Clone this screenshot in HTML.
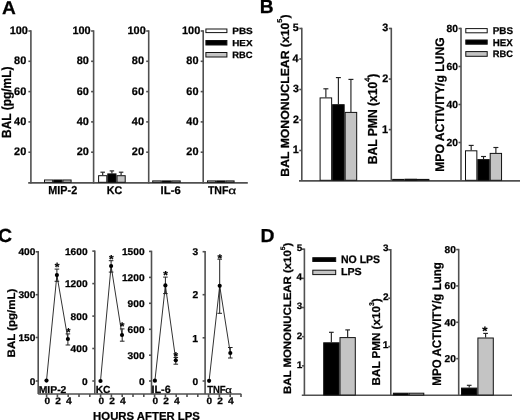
<!DOCTYPE html>
<html><head><meta charset="utf-8"><style>
html,body{margin:0;padding:0;background:#fff;}
body{width:520px;height:420px;overflow:hidden;}
svg{display:block;filter:grayscale(1) blur(0.4px);}
text{font-family:"Liberation Sans",sans-serif;fill:#000;text-rendering:geometricPrecision;stroke:#000;stroke-width:0.25px;}
</style></head><body>
<svg width="520" height="420" viewBox="0 0 520 420">

<text transform="translate(1.97,14.25) scale(1.038,1)" font-size="18.41" font-weight="bold">A</text>
<line x1="30.9" y1="30.3" x2="30.9" y2="183.5" stroke="#505050" stroke-width="1.6"/>
<line x1="28.4" y1="31" x2="30.9" y2="31" stroke="#505050" stroke-width="1.6"/>
<line x1="28.4" y1="61.3" x2="30.9" y2="61.3" stroke="#505050" stroke-width="1.6"/>
<line x1="28.4" y1="91.6" x2="30.9" y2="91.6" stroke="#505050" stroke-width="1.6"/>
<line x1="28.4" y1="121.9" x2="30.9" y2="121.9" stroke="#505050" stroke-width="1.6"/>
<line x1="28.4" y1="152.2" x2="30.9" y2="152.2" stroke="#505050" stroke-width="1.6"/>
<text transform="translate(9.71,34.07) scale(1.000,1)" font-size="10.92" font-weight="bold">100</text>
<text transform="translate(14.07,64.37) scale(1.000,1)" font-size="10.92" font-weight="bold">80</text>
<text transform="translate(14.07,94.67) scale(1.000,1)" font-size="10.92" font-weight="bold">60</text>
<text transform="translate(14.07,124.97) scale(1.000,1)" font-size="10.92" font-weight="bold">40</text>
<text transform="translate(14.07,155.27) scale(1.000,1)" font-size="10.92" font-weight="bold">20</text>
<line x1="93.6" y1="30.3" x2="93.6" y2="183.5" stroke="#505050" stroke-width="1.6"/>
<line x1="91.1" y1="31" x2="93.6" y2="31" stroke="#505050" stroke-width="1.6"/>
<line x1="91.1" y1="61.3" x2="93.6" y2="61.3" stroke="#505050" stroke-width="1.6"/>
<line x1="91.1" y1="91.6" x2="93.6" y2="91.6" stroke="#505050" stroke-width="1.6"/>
<line x1="91.1" y1="121.9" x2="93.6" y2="121.9" stroke="#505050" stroke-width="1.6"/>
<line x1="91.1" y1="152.2" x2="93.6" y2="152.2" stroke="#505050" stroke-width="1.6"/>
<text transform="translate(72.41,34.07) scale(1.000,1)" font-size="10.92" font-weight="bold">100</text>
<text transform="translate(76.77,64.37) scale(1.000,1)" font-size="10.92" font-weight="bold">80</text>
<text transform="translate(76.77,94.67) scale(1.000,1)" font-size="10.92" font-weight="bold">60</text>
<text transform="translate(76.77,124.97) scale(1.000,1)" font-size="10.92" font-weight="bold">40</text>
<text transform="translate(76.77,155.27) scale(1.000,1)" font-size="10.92" font-weight="bold">20</text>
<line x1="148.7" y1="30.3" x2="148.7" y2="183.5" stroke="#505050" stroke-width="1.6"/>
<line x1="146.2" y1="31" x2="148.7" y2="31" stroke="#505050" stroke-width="1.6"/>
<line x1="146.2" y1="61.3" x2="148.7" y2="61.3" stroke="#505050" stroke-width="1.6"/>
<line x1="146.2" y1="91.6" x2="148.7" y2="91.6" stroke="#505050" stroke-width="1.6"/>
<line x1="146.2" y1="121.9" x2="148.7" y2="121.9" stroke="#505050" stroke-width="1.6"/>
<line x1="146.2" y1="152.2" x2="148.7" y2="152.2" stroke="#505050" stroke-width="1.6"/>
<text transform="translate(127.51,34.07) scale(1.000,1)" font-size="10.92" font-weight="bold">100</text>
<text transform="translate(131.87,64.37) scale(1.000,1)" font-size="10.92" font-weight="bold">80</text>
<text transform="translate(131.87,94.67) scale(1.000,1)" font-size="10.92" font-weight="bold">60</text>
<text transform="translate(131.87,124.97) scale(1.000,1)" font-size="10.92" font-weight="bold">40</text>
<text transform="translate(131.87,155.27) scale(1.000,1)" font-size="10.92" font-weight="bold">20</text>
<line x1="203.2" y1="30.3" x2="203.2" y2="183.5" stroke="#505050" stroke-width="1.6"/>
<line x1="200.7" y1="31" x2="203.2" y2="31" stroke="#505050" stroke-width="1.6"/>
<line x1="200.7" y1="61.3" x2="203.2" y2="61.3" stroke="#505050" stroke-width="1.6"/>
<line x1="200.7" y1="91.6" x2="203.2" y2="91.6" stroke="#505050" stroke-width="1.6"/>
<line x1="200.7" y1="121.9" x2="203.2" y2="121.9" stroke="#505050" stroke-width="1.6"/>
<line x1="200.7" y1="152.2" x2="203.2" y2="152.2" stroke="#505050" stroke-width="1.6"/>
<text transform="translate(182.01,34.07) scale(1.000,1)" font-size="10.92" font-weight="bold">100</text>
<text transform="translate(186.37,64.37) scale(1.000,1)" font-size="10.92" font-weight="bold">80</text>
<text transform="translate(186.37,94.67) scale(1.000,1)" font-size="10.92" font-weight="bold">60</text>
<text transform="translate(186.37,124.97) scale(1.000,1)" font-size="10.92" font-weight="bold">40</text>
<text transform="translate(186.37,155.27) scale(1.000,1)" font-size="10.92" font-weight="bold">20</text>
<line x1="28.2" y1="182.9" x2="247.8" y2="182.9" stroke="#505050" stroke-width="1.6"/>
<rect x="44.5" y="180" width="8.2" height="2.3" fill="#fff" stroke="#111" stroke-width="1.0"/>
<rect x="53.7" y="180" width="8.2" height="2.3" fill="#000" stroke="#111" stroke-width="1.0"/>
<rect x="62.9" y="180" width="8.2" height="2.3" fill="#c4c4c4" stroke="#111" stroke-width="1.0"/>
<line x1="102.7" y1="172.2" x2="102.7" y2="175.2" stroke="#222" stroke-width="1.15"/>
<line x1="100.45" y1="172.2" x2="104.95" y2="172.2" stroke="#222" stroke-width="1.15"/>
<rect x="98.6" y="175.7" width="8.2" height="6.6" fill="#fff" stroke="#111" stroke-width="1.0"/>
<line x1="111.9" y1="170.9" x2="111.9" y2="173.4" stroke="#222" stroke-width="1.15"/>
<line x1="109.65" y1="170.9" x2="114.15" y2="170.9" stroke="#222" stroke-width="1.15"/>
<rect x="107.8" y="173.9" width="8.2" height="8.4" fill="#000" stroke="#111" stroke-width="1.0"/>
<line x1="121.1" y1="172.2" x2="121.1" y2="175.2" stroke="#222" stroke-width="1.15"/>
<line x1="118.85" y1="172.2" x2="123.35" y2="172.2" stroke="#222" stroke-width="1.15"/>
<rect x="117" y="175.7" width="8.2" height="6.6" fill="#c4c4c4" stroke="#111" stroke-width="1.0"/>
<rect x="152.7" y="180.9" width="8.5" height="1.4" fill="#fff" stroke="#111" stroke-width="1.0"/>
<rect x="162.2" y="180.9" width="8.5" height="1.4" fill="#000" stroke="#111" stroke-width="1.0"/>
<rect x="171.7" y="180.9" width="8.5" height="1.4" fill="#c4c4c4" stroke="#111" stroke-width="1.0"/>
<rect x="207.5" y="180.9" width="8.2" height="1.4" fill="#fff" stroke="#111" stroke-width="1.0"/>
<rect x="216.7" y="180.9" width="8.2" height="1.4" fill="#000" stroke="#111" stroke-width="1.0"/>
<rect x="225.9" y="180.9" width="8.2" height="1.4" fill="#c4c4c4" stroke="#111" stroke-width="1.0"/>
<text transform="translate(48.35,193.95) scale(0.935,1)" font-size="11.57" font-weight="bold">MIP-2</text>
<text transform="translate(106.86,193.84) scale(0.959,1)" font-size="11.13" font-weight="bold">KC</text>
<text transform="translate(160.62,193.84) scale(1.014,1)" font-size="11.13" font-weight="bold">IL-6</text>
<text transform="translate(207.94,193.65) scale(0.943,1)" font-size="11.16" font-weight="bold">TNF</text>
<text transform="translate(228.2,193.65) scale(1.348,1)" font-size="10.18" font-weight="normal">α</text>
<rect x="205.9" y="29" width="21" height="3.6" fill="#fff" stroke="#111" stroke-width="1.0"/>
<text transform="translate(232.2,33.86) scale(1.112,1)" font-size="9.01" font-weight="bold">PBS</text>
<rect x="205.9" y="40.5" width="21" height="4.5" fill="#000" stroke="#111" stroke-width="1.0"/>
<text transform="translate(232.21,45.55) scale(1.138,1)" font-size="8.70" font-weight="bold">HEX</text>
<rect x="205.9" y="52.5" width="21" height="4.5" fill="#c4c4c4" stroke="#111" stroke-width="1.0"/>
<text transform="translate(232.24,57.76) scale(1.032,1)" font-size="9.15" font-weight="bold">RBC</text>
<text transform="translate(10.85,137.93) rotate(-90) scale(0.905,1)" font-size="13.19" font-weight="bold">BAL (pg/mL)</text>
<text transform="translate(259.8,12.95) scale(1.003,1)" font-size="19.13" font-weight="bold">B</text>
<line x1="301.8" y1="27.8" x2="301.8" y2="180.5" stroke="#505050" stroke-width="1.6"/>
<line x1="299.3" y1="28.5" x2="301.8" y2="28.5" stroke="#505050" stroke-width="1.6"/>
<line x1="299.3" y1="59" x2="301.8" y2="59" stroke="#505050" stroke-width="1.6"/>
<line x1="299.3" y1="89.5" x2="301.8" y2="89.5" stroke="#505050" stroke-width="1.6"/>
<line x1="299.3" y1="120" x2="301.8" y2="120" stroke="#505050" stroke-width="1.6"/>
<line x1="299.3" y1="150.5" x2="301.8" y2="150.5" stroke="#505050" stroke-width="1.6"/>
<text transform="translate(292.87,31.34) scale(1.000,1)" font-size="10.71" font-weight="bold">5</text>
<text transform="translate(292.57,61.95) scale(1.000,1)" font-size="10.87" font-weight="bold">4</text>
<text transform="translate(293.06,92.34) scale(1.000,1)" font-size="10.56" font-weight="bold">3</text>
<text transform="translate(293.03,122.95) scale(1.000,1)" font-size="10.71" font-weight="bold">2</text>
<text transform="translate(292.79,153.45) scale(1.000,1)" font-size="10.87" font-weight="bold">1</text>
<line x1="391.3" y1="27.79" x2="391.3" y2="180.5" stroke="#505050" stroke-width="1.6"/>
<line x1="388.8" y1="28.49" x2="391.3" y2="28.49" stroke="#505050" stroke-width="1.6"/>
<line x1="388.8" y1="79.06" x2="391.3" y2="79.06" stroke="#505050" stroke-width="1.6"/>
<line x1="388.8" y1="129.63" x2="391.3" y2="129.63" stroke="#505050" stroke-width="1.6"/>
<text transform="translate(382.28,31.28) scale(1.000,1)" font-size="10.70" font-weight="bold">3</text>
<text transform="translate(382.26,81.96) scale(1.000,1)" font-size="10.86" font-weight="bold">2</text>
<text transform="translate(382.01,132.53) scale(1.000,1)" font-size="11.01" font-weight="bold">1</text>
<line x1="461" y1="27.8" x2="461" y2="180.5" stroke="#505050" stroke-width="1.6"/>
<line x1="458.5" y1="28.5" x2="461" y2="28.5" stroke="#505050" stroke-width="1.6"/>
<line x1="458.5" y1="66.5" x2="461" y2="66.5" stroke="#505050" stroke-width="1.6"/>
<line x1="458.5" y1="104.5" x2="461" y2="104.5" stroke="#505050" stroke-width="1.6"/>
<line x1="458.5" y1="142.5" x2="461" y2="142.5" stroke="#505050" stroke-width="1.6"/>
<text transform="translate(446.55,31.75) scale(1.000,1)" font-size="10.28" font-weight="bold">80</text>
<text transform="translate(446.55,69.75) scale(1.000,1)" font-size="10.28" font-weight="bold">60</text>
<text transform="translate(446.55,107.75) scale(1.000,1)" font-size="10.28" font-weight="bold">40</text>
<text transform="translate(446.55,145.75) scale(1.000,1)" font-size="10.28" font-weight="bold">20</text>
<line x1="299" y1="180.9" x2="520" y2="180.9" stroke="#505050" stroke-width="1.6"/>
<line x1="325.87" y1="88.8" x2="325.87" y2="97.4" stroke="#222" stroke-width="1.15"/>
<line x1="323.37" y1="88.8" x2="328.37" y2="88.8" stroke="#222" stroke-width="1.15"/>
<rect x="320.1" y="97.9" width="11.53" height="82.4" fill="#fff" stroke="#111" stroke-width="1.0"/>
<line x1="338.39" y1="77.6" x2="338.39" y2="104.2" stroke="#222" stroke-width="1.15"/>
<line x1="335.89" y1="77.6" x2="340.89" y2="77.6" stroke="#222" stroke-width="1.15"/>
<rect x="332.63" y="104.7" width="11.53" height="75.6" fill="#000" stroke="#111" stroke-width="1.0"/>
<line x1="350.93" y1="79.4" x2="350.93" y2="111.9" stroke="#222" stroke-width="1.15"/>
<line x1="348.43" y1="79.4" x2="353.43" y2="79.4" stroke="#222" stroke-width="1.15"/>
<rect x="345.16" y="112.4" width="11.53" height="67.9" fill="#c4c4c4" stroke="#111" stroke-width="1.0"/>
<rect x="392.7" y="179.4" width="11.4" height="0.9" fill="#fff" stroke="#111" stroke-width="1.0"/>
<rect x="405.1" y="179.2" width="11.4" height="1.1" fill="#000" stroke="#111" stroke-width="1.0"/>
<rect x="417.5" y="179.4" width="11.4" height="0.9" fill="#c4c4c4" stroke="#111" stroke-width="1.0"/>
<line x1="471.18" y1="145.4" x2="471.18" y2="150.3" stroke="#222" stroke-width="1.15"/>
<line x1="468.68" y1="145.4" x2="473.68" y2="145.4" stroke="#222" stroke-width="1.15"/>
<rect x="465.5" y="150.8" width="11.35" height="29.5" fill="#fff" stroke="#111" stroke-width="1.0"/>
<line x1="483.53" y1="156.5" x2="483.53" y2="159.1" stroke="#222" stroke-width="1.15"/>
<line x1="481.03" y1="156.5" x2="486.03" y2="156.5" stroke="#222" stroke-width="1.15"/>
<rect x="477.85" y="159.6" width="11.35" height="20.7" fill="#000" stroke="#111" stroke-width="1.0"/>
<line x1="495.88" y1="147.5" x2="495.88" y2="152.9" stroke="#222" stroke-width="1.15"/>
<line x1="493.38" y1="147.5" x2="498.38" y2="147.5" stroke="#222" stroke-width="1.15"/>
<rect x="490.2" y="153.4" width="11.35" height="26.9" fill="#c4c4c4" stroke="#111" stroke-width="1.0"/>
<rect x="465.8" y="28.6" width="21.4" height="4.2" fill="#fff" stroke="#111" stroke-width="1.0"/>
<text transform="translate(492.71,33.95) scale(1.001,1)" font-size="9.86" font-weight="bold">PBS</text>
<rect x="465.8" y="40" width="21.4" height="4.2" fill="#000" stroke="#111" stroke-width="1.0"/>
<text transform="translate(492.72,45.75) scale(1.004,1)" font-size="9.71" font-weight="bold">HEX</text>
<rect x="465.8" y="51.6" width="21.4" height="4.7" fill="#c4c4c4" stroke="#111" stroke-width="1.0"/>
<text transform="translate(492.75,57.16) scale(1.001,1)" font-size="9.30" font-weight="bold">RBC</text>
<text transform="translate(288.85,176.64) rotate(-90) scale(1.042,1)" font-size="11.74" font-weight="bold">BAL MONONUCLEAR (x10<tspan dy="-0.95em" font-size="0.6em">5</tspan><tspan dy="0.57em">)</tspan></text>
<text transform="translate(377.35,164.24) rotate(-90) scale(0.929,1)" font-size="13.04" font-weight="bold">BAL PMN (x10<tspan dy="-0.95em" font-size="0.6em">4</tspan><tspan dy="0.57em">)</tspan></text>
<text transform="translate(443.75,171.74) rotate(-90) scale(0.974,1)" font-size="12.46" font-weight="bold">MPO ACTIVITY/g LUNG</text>
<text transform="translate(-1.93,242.36) scale(1.028,1)" font-size="19.01" font-weight="bold">C</text>
<line x1="38.2" y1="251.1" x2="38.2" y2="394" stroke="#505050" stroke-width="1.6"/>
<line x1="35.7" y1="251.8" x2="38.2" y2="251.8" stroke="#505050" stroke-width="1.6"/>
<line x1="35.7" y1="294.7" x2="38.2" y2="294.7" stroke="#505050" stroke-width="1.6"/>
<line x1="35.7" y1="337.5" x2="38.2" y2="337.5" stroke="#505050" stroke-width="1.6"/>
<line x1="35.7" y1="381" x2="38.2" y2="381" stroke="#505050" stroke-width="1.6"/>
<text transform="translate(18.41,255.48) scale(1.040,1)" font-size="9.79" font-weight="bold">400</text>
<text transform="translate(18.41,298.38) scale(1.040,1)" font-size="9.79" font-weight="bold">300</text>
<text transform="translate(18.41,341.18) scale(1.040,1)" font-size="9.79" font-weight="bold">150</text>
<text transform="translate(29.71,384.68) scale(1.040,1)" font-size="9.79" font-weight="bold">0</text>
<line x1="94.8" y1="250.4" x2="94.8" y2="394" stroke="#505050" stroke-width="1.6"/>
<line x1="92.3" y1="251.1" x2="94.8" y2="251.1" stroke="#505050" stroke-width="1.6"/>
<line x1="92.3" y1="283.6" x2="94.8" y2="283.6" stroke="#505050" stroke-width="1.6"/>
<line x1="92.3" y1="316.1" x2="94.8" y2="316.1" stroke="#505050" stroke-width="1.6"/>
<line x1="92.3" y1="348.5" x2="94.8" y2="348.5" stroke="#505050" stroke-width="1.6"/>
<line x1="92.3" y1="381" x2="94.8" y2="381" stroke="#505050" stroke-width="1.6"/>
<text transform="translate(64.91,254.78) scale(1.040,1)" font-size="9.79" font-weight="bold">1600</text>
<text transform="translate(64.91,287.28) scale(1.040,1)" font-size="9.79" font-weight="bold">1200</text>
<text transform="translate(70.61,319.78) scale(1.040,1)" font-size="9.79" font-weight="bold">800</text>
<text transform="translate(70.61,352.18) scale(1.040,1)" font-size="9.79" font-weight="bold">400</text>
<text transform="translate(81.91,384.68) scale(1.040,1)" font-size="9.79" font-weight="bold">0</text>
<line x1="151.5" y1="250.7" x2="151.5" y2="394" stroke="#505050" stroke-width="1.6"/>
<line x1="149" y1="251.4" x2="151.5" y2="251.4" stroke="#505050" stroke-width="1.6"/>
<line x1="149" y1="277.4" x2="151.5" y2="277.4" stroke="#505050" stroke-width="1.6"/>
<line x1="149" y1="303.3" x2="151.5" y2="303.3" stroke="#505050" stroke-width="1.6"/>
<line x1="149" y1="329.3" x2="151.5" y2="329.3" stroke="#505050" stroke-width="1.6"/>
<line x1="149" y1="355.2" x2="151.5" y2="355.2" stroke="#505050" stroke-width="1.6"/>
<line x1="149" y1="381" x2="151.5" y2="381" stroke="#505050" stroke-width="1.6"/>
<text transform="translate(121.91,255.08) scale(1.040,1)" font-size="9.79" font-weight="bold">1500</text>
<text transform="translate(121.91,281.08) scale(1.040,1)" font-size="9.79" font-weight="bold">1200</text>
<text transform="translate(127.61,306.98) scale(1.040,1)" font-size="9.79" font-weight="bold">900</text>
<text transform="translate(127.61,332.98) scale(1.040,1)" font-size="9.79" font-weight="bold">600</text>
<text transform="translate(127.61,358.88) scale(1.040,1)" font-size="9.79" font-weight="bold">300</text>
<text transform="translate(138.91,384.68) scale(1.040,1)" font-size="9.79" font-weight="bold">0</text>
<line x1="205.1" y1="251" x2="205.1" y2="394" stroke="#505050" stroke-width="1.6"/>
<line x1="202.6" y1="251.7" x2="205.1" y2="251.7" stroke="#505050" stroke-width="1.6"/>
<line x1="202.6" y1="294.7" x2="205.1" y2="294.7" stroke="#505050" stroke-width="1.6"/>
<line x1="202.6" y1="337.8" x2="205.1" y2="337.8" stroke="#505050" stroke-width="1.6"/>
<line x1="202.6" y1="381" x2="205.1" y2="381" stroke="#505050" stroke-width="1.6"/>
<text transform="translate(192.46,255.38) scale(1.040,1)" font-size="9.79" font-weight="bold">3</text>
<text transform="translate(192.43,298.48) scale(1.040,1)" font-size="9.93" font-weight="bold">2</text>
<text transform="translate(192.2,341.58) scale(1.040,1)" font-size="10.07" font-weight="bold">1</text>
<text transform="translate(192.51,384.68) scale(1.040,1)" font-size="9.79" font-weight="bold">0</text>
<line x1="38.2" y1="394" x2="241.3" y2="394" stroke="#505050" stroke-width="1.6"/>
<line x1="46.6" y1="394" x2="46.6" y2="397" stroke="#505050" stroke-width="1.6"/>
<line x1="57.4" y1="394" x2="57.4" y2="397" stroke="#505050" stroke-width="1.6"/>
<line x1="68.2" y1="394" x2="68.2" y2="397" stroke="#505050" stroke-width="1.6"/>
<line x1="79" y1="394" x2="79" y2="397" stroke="#505050" stroke-width="1.6"/>
<line x1="89.8" y1="394" x2="89.8" y2="397" stroke="#505050" stroke-width="1.6"/>
<line x1="100.6" y1="394" x2="100.6" y2="397" stroke="#505050" stroke-width="1.6"/>
<line x1="111.4" y1="394" x2="111.4" y2="397" stroke="#505050" stroke-width="1.6"/>
<line x1="122.2" y1="394" x2="122.2" y2="397" stroke="#505050" stroke-width="1.6"/>
<line x1="133" y1="394" x2="133" y2="397" stroke="#505050" stroke-width="1.6"/>
<line x1="143.8" y1="394" x2="143.8" y2="397" stroke="#505050" stroke-width="1.6"/>
<line x1="154.6" y1="394" x2="154.6" y2="397" stroke="#505050" stroke-width="1.6"/>
<line x1="165.4" y1="394" x2="165.4" y2="397" stroke="#505050" stroke-width="1.6"/>
<line x1="176.2" y1="394" x2="176.2" y2="397" stroke="#505050" stroke-width="1.6"/>
<line x1="187" y1="394" x2="187" y2="397" stroke="#505050" stroke-width="1.6"/>
<line x1="197.8" y1="394" x2="197.8" y2="397" stroke="#505050" stroke-width="1.6"/>
<line x1="208.6" y1="394" x2="208.6" y2="397" stroke="#505050" stroke-width="1.6"/>
<line x1="219.4" y1="394" x2="219.4" y2="397" stroke="#505050" stroke-width="1.6"/>
<line x1="230.2" y1="394" x2="230.2" y2="397" stroke="#505050" stroke-width="1.6"/>
<line x1="241" y1="394" x2="241" y2="397" stroke="#505050" stroke-width="1.6"/>
<text transform="translate(44.41,404.16) scale(1.08,1)" font-size="9.30" font-weight="bold">0</text>
<text transform="translate(55.2,404.25) scale(1.08,1)" font-size="9.43" font-weight="bold">2</text>
<text transform="translate(65.88,404.25) scale(1.08,1)" font-size="9.57" font-weight="bold">4</text>
<text transform="translate(98.41,404.16) scale(1.08,1)" font-size="9.30" font-weight="bold">0</text>
<text transform="translate(109.2,404.25) scale(1.08,1)" font-size="9.43" font-weight="bold">2</text>
<text transform="translate(119.88,404.25) scale(1.08,1)" font-size="9.57" font-weight="bold">4</text>
<text transform="translate(152.41,404.16) scale(1.08,1)" font-size="9.30" font-weight="bold">0</text>
<text transform="translate(163.2,404.25) scale(1.08,1)" font-size="9.43" font-weight="bold">2</text>
<text transform="translate(173.88,404.25) scale(1.08,1)" font-size="9.57" font-weight="bold">4</text>
<text transform="translate(206.41,404.16) scale(1.08,1)" font-size="9.30" font-weight="bold">0</text>
<text transform="translate(217.2,404.25) scale(1.08,1)" font-size="9.43" font-weight="bold">2</text>
<text transform="translate(227.88,404.25) scale(1.08,1)" font-size="9.57" font-weight="bold">4</text>
<text transform="translate(93.11,420.13) scale(0.983,1)" font-size="11.55" font-weight="bold">HOURS AFTER LPS</text>
<polyline points="46.5,380.6 56.9,275.1 67.9,339" fill="none" stroke="#333" stroke-width="1.0"/>
<line x1="56.9" y1="269.1" x2="56.9" y2="281.3" stroke="#222" stroke-width="1.0"/>
<line x1="54.6" y1="269.1" x2="59.2" y2="269.1" stroke="#222" stroke-width="1.0"/>
<line x1="54.6" y1="281.3" x2="59.2" y2="281.3" stroke="#222" stroke-width="1.0"/>
<line x1="67.9" y1="333.9" x2="67.9" y2="345" stroke="#222" stroke-width="1.0"/>
<line x1="65.6" y1="333.9" x2="70.2" y2="333.9" stroke="#222" stroke-width="1.0"/>
<line x1="65.6" y1="345" x2="70.2" y2="345" stroke="#222" stroke-width="1.0"/>
<circle cx="46.5" cy="380.6" r="2.1" fill="#000"/>
<circle cx="56.9" cy="275.1" r="2.1" fill="#000"/>
<circle cx="67.9" cy="339" r="2.1" fill="#000"/>
<text transform="translate(54.79,270.56) scale(1.018,1)" font-size="11.89" font-weight="bold">*</text>
<text transform="translate(66.5,335.87) scale(0.860,1)" font-size="11.62" font-weight="bold">*</text>
<polyline points="100.5,381 111.1,266 122,335" fill="none" stroke="#333" stroke-width="1.0"/>
<line x1="111.1" y1="260.7" x2="111.1" y2="272.1" stroke="#222" stroke-width="1.0"/>
<line x1="108.8" y1="260.7" x2="113.4" y2="260.7" stroke="#222" stroke-width="1.0"/>
<line x1="108.8" y1="272.1" x2="113.4" y2="272.1" stroke="#222" stroke-width="1.0"/>
<line x1="122.2" y1="328.9" x2="122.2" y2="341.2" stroke="#222" stroke-width="1.0"/>
<line x1="119.9" y1="328.9" x2="124.5" y2="328.9" stroke="#222" stroke-width="1.0"/>
<line x1="119.9" y1="341.2" x2="124.5" y2="341.2" stroke="#222" stroke-width="1.0"/>
<circle cx="100.5" cy="381" r="2.1" fill="#000"/>
<circle cx="111.1" cy="266" r="2.1" fill="#000"/>
<circle cx="122" cy="335" r="2.1" fill="#000"/>
<text transform="translate(108.89,262.87) scale(1.019,1)" font-size="11.62" font-weight="bold">*</text>
<text transform="translate(119.99,329.7) scale(1.021,1)" font-size="11.08" font-weight="bold">*</text>
<polyline points="154.9,380.7 165.4,285.4 175.8,360.3" fill="none" stroke="#333" stroke-width="1.0"/>
<line x1="165.4" y1="277.1" x2="165.4" y2="293.6" stroke="#222" stroke-width="1.0"/>
<line x1="163.1" y1="277.1" x2="167.7" y2="277.1" stroke="#222" stroke-width="1.0"/>
<line x1="163.1" y1="293.6" x2="167.7" y2="293.6" stroke="#222" stroke-width="1.0"/>
<line x1="175.8" y1="357.5" x2="175.8" y2="364.2" stroke="#222" stroke-width="1.0"/>
<line x1="173.5" y1="357.5" x2="178.1" y2="357.5" stroke="#222" stroke-width="1.0"/>
<line x1="173.5" y1="364.2" x2="178.1" y2="364.2" stroke="#222" stroke-width="1.0"/>
<circle cx="154.9" cy="380.7" r="2.1" fill="#000"/>
<circle cx="165.4" cy="285.4" r="2.1" fill="#000"/>
<circle cx="175.8" cy="360.3" r="2.1" fill="#000"/>
<text transform="translate(163.19,279.07) scale(1.019,1)" font-size="11.62" font-weight="bold">*</text>
<text transform="translate(173.59,360.48) scale(1.043,1)" font-size="11.35" font-weight="bold">*</text>
<polyline points="209.1,380.8 219.7,285.8 230.3,353" fill="none" stroke="#333" stroke-width="1.0"/>
<line x1="219.7" y1="259.2" x2="219.7" y2="313.3" stroke="#222" stroke-width="1.0"/>
<line x1="217.4" y1="259.2" x2="222" y2="259.2" stroke="#222" stroke-width="1.0"/>
<line x1="217.4" y1="313.3" x2="222" y2="313.3" stroke="#222" stroke-width="1.0"/>
<line x1="230.3" y1="347.5" x2="230.3" y2="358" stroke="#222" stroke-width="1.0"/>
<line x1="228" y1="347.5" x2="232.6" y2="347.5" stroke="#222" stroke-width="1.0"/>
<line x1="228" y1="358" x2="232.6" y2="358" stroke="#222" stroke-width="1.0"/>
<circle cx="209.1" cy="380.8" r="2.1" fill="#000"/>
<circle cx="219.7" cy="285.8" r="2.1" fill="#000"/>
<circle cx="230.3" cy="353" r="2.1" fill="#000"/>
<text transform="translate(217.39,261.5) scale(1.069,1)" font-size="11.08" font-weight="bold">*</text>
<text transform="translate(38.67,393.35) scale(1.039,1)" font-size="10.00" font-weight="bold">MIP-2</text>
<text transform="translate(95.79,393.25) scale(0.987,1)" font-size="10.28" font-weight="bold">KC</text>
<text transform="translate(151.44,393.24) scale(1.015,1)" font-size="10.70" font-weight="bold">IL-6</text>
<text transform="translate(207.15,393.05) scale(0.926,1)" font-size="10.29" font-weight="bold">TNF</text>
<text transform="translate(225.2,393.26) scale(1.251,1)" font-size="9.09" font-weight="normal">α</text>
<text transform="translate(14.95,357.4) rotate(-90) scale(1.058,1)" font-size="10.87" font-weight="bold">BAL (pg/mL)</text>
<text transform="translate(260.49,242.15) scale(1.027,1)" font-size="18.84" font-weight="bold">D</text>
<line x1="304.4" y1="248.5" x2="304.4" y2="395" stroke="#505050" stroke-width="1.6"/>
<line x1="301.9" y1="249.2" x2="304.4" y2="249.2" stroke="#505050" stroke-width="1.6"/>
<line x1="301.9" y1="278.36" x2="304.4" y2="278.36" stroke="#505050" stroke-width="1.6"/>
<line x1="301.9" y1="307.52" x2="304.4" y2="307.52" stroke="#505050" stroke-width="1.6"/>
<line x1="301.9" y1="336.68" x2="304.4" y2="336.68" stroke="#505050" stroke-width="1.6"/>
<line x1="301.9" y1="365.84" x2="304.4" y2="365.84" stroke="#505050" stroke-width="1.6"/>
<text transform="translate(296.7,251.11) scale(1.050,1)" font-size="9.43" font-weight="bold">5</text>
<text transform="translate(296.43,280.36) scale(1.050,1)" font-size="9.57" font-weight="bold">4</text>
<text transform="translate(296.87,309.43) scale(1.050,1)" font-size="9.30" font-weight="bold">3</text>
<text transform="translate(296.85,338.68) scale(1.050,1)" font-size="9.43" font-weight="bold">2</text>
<text transform="translate(296.63,367.84) scale(1.050,1)" font-size="9.57" font-weight="bold">1</text>
<line x1="390.8" y1="249.1" x2="390.8" y2="395" stroke="#505050" stroke-width="1.6"/>
<line x1="388.3" y1="249.8" x2="390.8" y2="249.8" stroke="#505050" stroke-width="1.6"/>
<line x1="388.3" y1="298.2" x2="390.8" y2="298.2" stroke="#505050" stroke-width="1.6"/>
<line x1="388.3" y1="346.6" x2="390.8" y2="346.6" stroke="#505050" stroke-width="1.6"/>
<text transform="translate(383.1,251.26) scale(1.050,1)" font-size="9.44" font-weight="bold">3</text>
<text transform="translate(383.07,299.75) scale(1.050,1)" font-size="9.57" font-weight="bold">2</text>
<text transform="translate(382.85,348.15) scale(1.050,1)" font-size="9.71" font-weight="bold">1</text>
<line x1="458.7" y1="248.86" x2="458.7" y2="395" stroke="#505050" stroke-width="1.6"/>
<line x1="456.2" y1="249.56" x2="458.7" y2="249.56" stroke="#505050" stroke-width="1.6"/>
<line x1="456.2" y1="285.92" x2="458.7" y2="285.92" stroke="#505050" stroke-width="1.6"/>
<line x1="456.2" y1="322.28" x2="458.7" y2="322.28" stroke="#505050" stroke-width="1.6"/>
<line x1="456.2" y1="358.64" x2="458.7" y2="358.64" stroke="#505050" stroke-width="1.6"/>
<text transform="translate(444.54,252.81) scale(1.020,1)" font-size="10.00" font-weight="bold">80</text>
<text transform="translate(444.54,289.17) scale(1.020,1)" font-size="10.00" font-weight="bold">60</text>
<text transform="translate(444.54,325.53) scale(1.020,1)" font-size="10.00" font-weight="bold">40</text>
<text transform="translate(444.54,361.89) scale(1.020,1)" font-size="10.00" font-weight="bold">20</text>
<line x1="301.8" y1="395.3" x2="512" y2="395.3" stroke="#505050" stroke-width="1.6"/>
<line x1="331.35" y1="332.3" x2="331.35" y2="342.3" stroke="#222" stroke-width="1.15"/>
<line x1="329" y1="332.3" x2="333.7" y2="332.3" stroke="#222" stroke-width="1.15"/>
<rect x="323.7" y="342.8" width="15.3" height="52.2" fill="#000" stroke="#111" stroke-width="1.0"/>
<line x1="347.65" y1="329.9" x2="347.65" y2="337.1" stroke="#222" stroke-width="1.15"/>
<line x1="345.3" y1="329.9" x2="350" y2="329.9" stroke="#222" stroke-width="1.15"/>
<rect x="340" y="337.6" width="15.3" height="57.4" fill="#c4c4c4" stroke="#111" stroke-width="1.0"/>
<rect x="393.4" y="393.2" width="14.7" height="1.8" fill="#000" stroke="#111" stroke-width="1.0"/>
<rect x="409.1" y="393.2" width="14.7" height="1.8" fill="#c4c4c4" stroke="#111" stroke-width="1.0"/>
<line x1="469.2" y1="385.3" x2="469.2" y2="387.6" stroke="#222" stroke-width="1.15"/>
<line x1="466.85" y1="385.3" x2="471.55" y2="385.3" stroke="#222" stroke-width="1.15"/>
<rect x="461.5" y="388.1" width="15.4" height="6.9" fill="#000" stroke="#111" stroke-width="1.0"/>
<line x1="485.6" y1="333.4" x2="485.6" y2="337.5" stroke="#222" stroke-width="1.15"/>
<line x1="483.25" y1="333.4" x2="487.95" y2="333.4" stroke="#222" stroke-width="1.15"/>
<rect x="477.9" y="338" width="15.4" height="57" fill="#c4c4c4" stroke="#111" stroke-width="1.0"/>
<text transform="translate(482.18,335.44) scale(1.104,1)" font-size="12.16" font-weight="bold">*</text>
<rect x="312.8" y="257.7" width="22.9" height="3.8" fill="#000" stroke="#111" stroke-width="1.0"/>
<rect x="312.8" y="270.2" width="22.9" height="4.4" fill="#c4c4c4" stroke="#111" stroke-width="1.0"/>
<text transform="translate(340.97,262.84) scale(0.970,1)" font-size="10.85" font-weight="bold">NO LPS</text>
<text transform="translate(340.96,275.45) scale(1.053,1)" font-size="10.14" font-weight="bold">LPS</text>
<text transform="translate(291.15,393.99) rotate(-90) scale(1.065,1)" font-size="10.72" font-weight="bold">BAL MONONUCLEAR (x10<tspan dy="-0.95em" font-size="0.6em">5</tspan><tspan dy="0.57em">)</tspan></text>
<text transform="translate(380.35,385.41) rotate(-90) scale(1.017,1)" font-size="11.45" font-weight="bold">BAL PMN (x10<tspan dy="-0.95em" font-size="0.6em">3</tspan><tspan dy="0.57em">)</tspan></text>
<text transform="translate(441.35,385.7) rotate(-90) scale(0.929,1)" font-size="12.46" font-weight="bold">MPO ACTIVITY/g Lung</text>
</svg></body></html>
